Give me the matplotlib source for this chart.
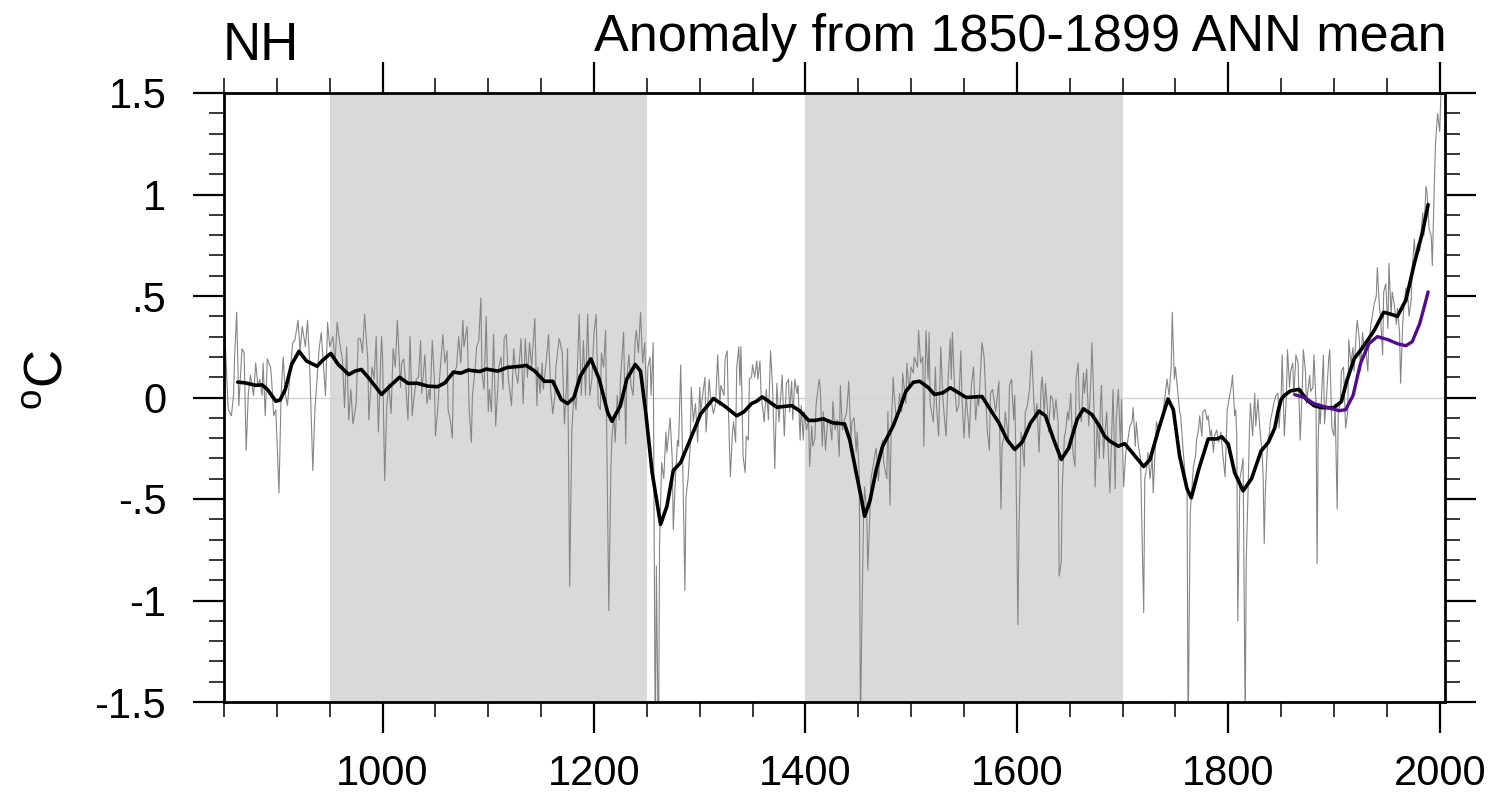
import matplotlib
matplotlib.use('Agg')
import matplotlib.pyplot as plt
from matplotlib.ticker import FixedLocator, MultipleLocator

plt.rcParams['font.family'] = ['Liberation Sans', 'DejaVu Sans']
plt.rcParams['mathtext.fontset'] = 'custom'
plt.rcParams['mathtext.rm'] = 'Liberation Sans'

# ---------------- data (year, anomaly degC) ----------------
title_left = "NH"
title_right = "Anomaly from 1850-1899 ANN mean"
y_label = r"$^{\mathrm{o}}$C"

shade_periods = [(950, 1250), (1400, 1700)]

x_major = [1000, 1200, 1400, 1600, 1800, 2000]
y_major = [-1.5, -1.0, -0.5, 0.0, 0.5, 1.0, 1.5]
y_major_labels = ["-1.5", "-1", "-.5", "0", ".5", "1", "1.5"]

# annual grey series (peaks / troughs)
grey_850_1012 = [(850,0.25),(851,0.29),(854,-0.06),(857,-0.09),(859,0.01),(860,0.20),(862,0.42),(864,-0.04),(867,0.24),(869,0.22),
 (871,-0.26),(873,0.02),(875,0.11),(878,0.01),(880,0.17),(882,0.06),(884,0.09),(886,0.01),(887,0.17),(889,-0.09),
 (891,0.19),(894,0.15),(895,0.09),(897,-0.09),(899,-0.06),(902,-0.47),(904,0.01),(906,0.20),(908,0.02),(910,-0.04),
 (913,0.15),(915,0.27),(917,0.28),(920,0.38),(922,0.23),(924,0.35),(927,0.25),(929,0.38),(931,0.17),(934,-0.36),
 (936,-0.06),(938,0.09),(940,0.24),(942,0.32),(944,0.17),(946,0.01),(948,0.37),(950,0.25),(953,0.30),(955,0.17),
 (957,0.37),(960,0.25),(962,0.19),(964,-0.05),(966,0.25),(968,-0.11),(970,0.04),(972,-0.13),(975,-0.03),(977,0.29),
 (979,0.29),(981,0.22),(983,0.41),(986,0.19),(987,-0.11),(990,0.15),(992,0.09),(994,0.30),(996,-0.17),(999,0.30),
 (1000,0.20),(1002,-0.41),(1004,-0.04),(1006,0.07),(1008,-0.08),(1010,0.24),(1012,0.15)]

grey_1014_1183 = [(1014,0.38),(1017,0.05),(1018,0.17),(1020,0.19),(1022,0.06),(1024,-0.11),(1026,0.30),(1028,-0.09),(1030,0.01),(1032,0.09),
 (1034,0.10),(1036,0.28),(1037,0.02),(1040,0.21),(1042,-0.03),(1044,0.04),(1045,-0.01),(1047,0.28),(1049,0.09),(1050,-0.19),
 (1052,-0.07),(1054,0.10),(1057,0.31),(1059,0.17),(1061,0.23),(1062,-0.06),(1064,-0.11),(1066,-0.20),(1067,0.12),(1070,0.15),
 (1072,0.30),(1074,0.17),(1076,0.38),(1077,0.25),(1080,0.35),(1082,-0.07),(1084,-0.22),(1085,0.01),(1088,0.17),(1089,0.25),
 (1091,0.28),(1093,0.49),(1094,0.12),(1096,0.04),(1098,0.40),(1100,-0.07),(1101,0.04),(1103,-0.07),(1105,0.31),(1107,-0.14),
 (1110,0.15),(1112,0.20),(1114,0.04),(1115,0.29),(1117,0.31),(1119,0.09),(1122,-0.04),(1124,0.24),(1126,0.12),(1128,0.07),
 (1129,0.15),(1131,0.29),(1133,-0.03),(1135,0.29),(1137,0.10),(1139,0.27),(1141,0.15),(1144,0.39),(1146,-0.04),(1147,0.15),
 (1149,0.02),(1151,0.17),(1152,0.04),(1155,0.19),(1157,0.31),(1159,0.04),(1161,-0.08),(1163,0.01),(1164,0.15),(1167,0.29),
 (1168,0.27),(1170,0.22),(1172,-0.13),(1174,0.06),(1175,0.24),(1177,-0.93),(1179,-0.16),(1181,0.01),(1183,-0.06)]

grey_1186_1349 = [(1186,0.41),(1188,0.01),(1190,0.28),(1192,0.01),(1194,0.41),(1196,0.01),(1198,0.09),(1200,0.32),(1202,0.41),(1204,-0.04),
 (1206,-0.06),(1207,0.22),(1209,0.15),(1211,0.33),(1212,-0.16),(1214,-1.05),(1216,-0.34),(1217,-0.19),(1219,-0.09),(1220,-0.22),
 (1222,0.01),(1224,-0.11),(1225,0.09),(1228,0.32),(1230,-0.23),(1231,0.09),(1233,0.21),(1235,0.06),(1237,0.01),(1239,0.29),
 (1240,0.33),(1242,0.22),(1244,0.42),(1246,0.17),(1248,0.27),(1250,-0.06),(1251,0.15),(1253,0.20),(1254,0.01),(1256,0.27),
 (1258,-1.8),(1259,-0.83),(1261,-1.8),(1262,-0.73),(1264,-0.32),(1266,-0.40),(1268,-0.17),(1269,-0.27),(1271,-0.16),(1272,-0.10),
 (1274,-0.30),(1275,-0.65),(1277,-0.40),(1279,-0.21),(1280,-0.24),(1282,0.16),(1284,-0.34),(1286,-0.95),(1287,-0.49),(1289,-0.40),
 (1291,-0.24),(1292,0.05),(1294,-0.12),(1296,-0.03),(1298,-0.22),(1300,0.05),(1301,-0.07),(1303,0.02),(1305,0.10),(1306,-0.17),
 (1309,0.09),(1310,0.01),(1313,-0.08),(1315,-0.03),(1317,0.21),(1319,-0.04),(1320,0.06),(1323,0.01),(1324,0.19),(1326,0.23),
 (1327,-0.04),(1329,-0.39),(1331,-0.17),(1332,-0.12),(1334,-0.22),(1335,0.15),(1337,0.25),(1338,0.06),(1339,0.25),(1341,-0.29),
 (1343,-0.37),(1344,-0.19),(1346,-0.21),(1347,0.09),(1349,0.10)]

grey_1350_1516 = [(1350,0.16),(1352,0.10),(1354,0.18),(1355,0.09),(1357,0.18),(1358,0.02),(1361,-0.12),(1363,0.04),(1365,-0.11),(1367,0.23),
 (1369,0.04),(1371,-0.35),(1373,0.07),(1375,-0.12),(1376,-0.04),(1378,0.11),(1380,-0.19),(1382,0.07),(1384,0.09),(1385,-0.07),
 (1387,0.08),(1388,-0.11),(1390,0.09),(1392,0.02),(1393,0.06),(1395,-0.21),(1396,-0.04),(1398,-0.21),(1399,-0.07),(1401,-0.16),
 (1403,-0.11),(1404,-0.34),(1406,-0.14),(1407,-0.24),(1409,-0.20),(1410,-0.04),(1413,0.09),(1414,0.05),(1416,-0.24),(1417,-0.07),
 (1419,-0.26),(1421,-0.11),(1423,-0.12),(1425,-0.21),(1426,-0.02),(1428,-0.16),(1430,-0.11),(1432,-0.29),(1433,0.06),(1435,-0.16),
 (1437,-0.11),(1439,-0.07),(1441,0.08),(1443,-0.21),(1444,-0.12),(1446,-0.10),(1448,-0.27),(1449,-0.17),(1451,-0.40),(1452,-1.6),
 (1454,-0.93),(1455,-0.57),(1456,-0.44),(1458,-0.57),(1459,-0.85),(1461,-0.57),(1462,-0.40),(1464,-0.34),(1466,-0.27),(1467,-0.25),
 (1469,-0.41),(1471,-0.26),(1473,-0.21),(1474,-0.32),(1477,-0.40),(1478,-0.07),(1480,-0.53),(1481,-0.19),(1483,0.10),(1484,0.01),
 (1486,-0.11),(1488,-0.07),(1489,0.02),(1491,-0.07),(1492,0.12),(1495,-0.03),(1496,0.17),(1498,0.04),(1500,0.15),(1502,0.12),
 (1503,0.20),(1506,0.15),(1507,0.33),(1509,0.17),(1511,0.20),(1512,-0.24),(1514,0.33),(1516,0.09)]

grey_1517_1680 = [(1517,0.32),(1518,-0.03),(1521,-0.12),(1523,0.15),(1524,-0.04),(1526,-0.19),(1528,0.25),(1530,0.00),(1531,-0.07),(1533,-0.19),
 (1535,0.09),(1537,0.29),(1538,0.09),(1539,0.32),(1541,0.06),(1543,-0.07),(1545,-0.04),(1547,0.23),(1548,0.01),(1550,-0.20),
 (1552,0.01),(1554,-0.11),(1555,-0.20),(1557,0.06),(1559,0.15),(1561,-0.11),(1563,0.01),(1564,-0.04),(1567,0.27),(1569,0.20),
 (1571,-0.04),(1572,-0.16),(1574,-0.26),(1575,0.02),(1577,0.04),(1580,-0.07),(1583,0.08),(1585,-0.55),(1586,-0.24),(1588,-0.19),
 (1589,-0.07),(1592,-0.21),(1593,0.06),(1595,0.09),(1597,-0.11),(1598,0.01),(1599,-0.27),(1601,-1.12),(1602,-0.65),(1604,-0.17),
 (1605,-0.21),(1607,-0.34),(1608,-0.07),(1610,-0.04),(1612,0.04),(1614,0.23),(1616,-0.01),(1617,-0.11),(1619,-0.03),(1621,-0.27),
 (1623,0.06),(1624,0.10),(1626,-0.09),(1627,0.07),(1629,-0.06),(1630,-0.17),(1632,0.01),(1634,-0.01),(1635,-0.11),(1637,-0.01),
 (1639,-0.12),(1640,-0.88),(1642,-0.81),(1643,-0.44),(1645,-0.19),(1646,-0.17),(1648,-0.07),(1649,-0.11),(1651,0.02),(1653,-0.27),
 (1655,-0.34),(1656,0.09),(1658,0.17),(1659,-0.04),(1661,-0.12),(1663,0.12),(1664,0.02),(1666,0.14),(1668,-0.14),(1670,0.09),
 (1671,0.27),(1673,-0.06),(1674,-0.44),(1676,-0.12),(1678,-0.30),(1679,-0.04),(1680,0.06)]

grey_1682_1847 = [(1682,-0.30),(1683,-0.19),(1685,-0.07),(1687,-0.34),(1688,-0.47),(1690,-0.12),(1691,0.04),(1693,-0.45),(1694,-0.11),(1696,0.04),
 (1698,-0.24),(1699,-0.01),(1701,-0.44),(1703,-0.27),(1705,-0.21),(1707,-0.14),(1709,-0.12),(1710,-0.05),(1712,-0.24),(1713,-0.12),
 (1715,-0.24),(1717,-0.30),(1718,-0.57),(1720,-1.06),(1721,-0.40),(1723,-0.34),(1724,-0.27),(1726,-0.40),(1728,-0.29),(1729,-0.47),
 (1731,-0.24),(1732,-0.12),(1734,-0.16),(1737,-0.12),(1740,0.00),(1742,0.09),(1744,0.01),(1746,0.15),(1747,0.42),(1749,0.09),
 (1750,0.15),(1752,0.04),(1754,-0.07),(1755,-0.09),(1757,-0.24),(1759,-0.37),(1761,-0.47),(1762,-1.7),(1763,-1.1),(1764,-0.57),
 (1765,-0.49),(1767,-0.34),(1769,-0.29),(1770,-0.21),(1772,-0.15),(1773,-0.09),(1775,-0.19),(1776,-0.07),(1778,-0.06),(1780,-0.11),
 (1781,-0.09),(1783,-0.19),(1784,-0.16),(1786,-0.27),(1787,-0.19),(1789,-0.16),(1791,-0.22),(1793,-0.17),(1795,-0.29),(1797,-0.39),
 (1799,-0.06),(1801,0.00),(1803,0.06),(1804,0.11),(1806,-0.09),(1807,-0.06),(1808,-0.19),(1809,-1.10),(1811,-0.40),(1813,-0.34),
 (1814,-0.30),(1816,-1.6),(1817,-0.80),(1819,-0.40),(1820,-0.16),(1821,-0.03),(1823,-0.19),(1825,0.02),(1826,-0.14),(1828,-0.01),
 (1830,-0.16),(1832,-0.27),(1833,-0.40),(1834,-0.72),(1835,-0.47),(1837,-0.24),(1839,-0.17),(1840,-0.11),(1842,-0.06),(1843,-0.03),
 (1845,0.01),(1847,0.02)]

grey_1848_2004 = [(1848,-0.15),(1850,0.01),(1851,0.21),(1853,-0.19),(1855,0.01),(1856,0.235),(1858,0.05),(1859,0.13),(1861,0.17),(1862,0.01),
 (1864,0.21),(1866,0.17),(1867,-0.03),(1868,-0.21),(1870,0.05),(1871,0.235),(1873,0.13),(1874,-0.03),(1877,0.11),(1878,0.03),
 (1880,0.05),(1881,0.21),(1883,-0.03),(1884,-0.82),(1885,-0.23),(1886,-0.03),(1887,-0.13),(1889,0.09),(1890,0.21),(1891,-0.13),
 (1893,0.01),(1895,0.19),(1896,0.235),(1898,-0.15),(1900,-0.19),(1901,-0.03),(1903,-0.55),(1904,-0.07),(1906,-0.03),(1907,0.13),
 (1909,0.15),(1911,-0.15),(1913,-0.07),(1914,0.285),(1916,0.17),(1918,0.245),(1919,0.13),(1921,0.32),(1922,0.38),(1924,0.285),
 (1925,0.13),(1927,0.32),(1929,0.21),(1930,0.245),(1932,0.13),(1933,0.265),(1935,0.36),(1938,0.46),(1940,0.50),(1941,0.64),
 (1943,0.44),(1944,0.40),(1946,0.21),(1947,0.52),(1949,0.56),(1951,0.34),(1952,0.66),(1954,0.40),(1955,0.52),(1957,0.46),
 (1959,0.36),(1960,0.44),(1962,0.32),(1963,0.07),(1965,0.36),(1966,0.44),(1968,0.54),(1970,0.48),(1971,0.40),(1973,0.48),
 (1974,0.64),(1976,0.78),(1977,0.68),(1979,0.755),(1981,0.72),(1982,0.795),(1984,0.91),(1985,0.795),(1987,1.04),(1988,1.01),
 (1990,0.83),(1992,0.795),(1993,0.65),(1995,1.07),(1996,1.25),(1998,1.40),(2000,1.31),(2001,1.48),(2003,1.52),(2004,1.50)]

# smoothed (black) series
black_smooth = [(863,0.076),(870,0.072),(880,0.06),(886,0.062),(891,0.04),(899,-0.018),(903,-0.013),(908,0.04),(914,0.163),(921,0.228),
 (928,0.18),(938,0.154),(944,0.187),(951,0.217),(958,0.163),(968,0.113),(974,0.13),(980,0.138),(988,0.089),(999,0.015),
 (1007,0.056),(1016,0.10),(1024,0.07),(1033,0.07),(1043,0.056),(1052,0.053),(1059,0.072),(1067,0.125),(1074,0.12),(1081,0.135),
 (1092,0.128),(1098,0.14),(1109,0.13),(1118,0.148),(1131,0.154),(1136,0.158),(1144,0.13),(1153,0.08),(1161,0.08),(1169,-0.01),
 (1175,-0.03),(1181,0.0),(1187,0.105),(1197,0.19),(1205,0.09),(1213,-0.075),(1217,-0.117),(1225,-0.04),(1231,0.09),(1239,0.163),
 (1244,0.13),(1249,-0.075),(1255,-0.37),(1263,-0.625),(1269,-0.535),(1275,-0.36),(1282,-0.32),(1290,-0.22),(1301,-0.08),(1313,-0.005),
 (1323,-0.04),(1335,-0.09),(1342,-0.07),(1349,-0.03),(1354,-0.018),(1359,0.003),(1365,-0.018),(1373,-0.048),(1387,-0.04),(1395,-0.067),
 (1403,-0.113),(1409,-0.113),(1417,-0.105),(1426,-0.125),(1437,-0.13),(1442,-0.21),(1448,-0.37),(1453,-0.50),(1456,-0.585),(1461,-0.51),
 (1467,-0.355),(1473,-0.24),(1483,-0.14),(1489,-0.06),(1495,0.03),(1502,0.075),(1508,0.08),(1516,0.05),(1522,0.015),(1530,0.023),
 (1537,0.048),(1545,0.023),(1552,0.0),(1567,0.005),(1575,-0.06),(1583,-0.125),(1591,-0.21),(1598,-0.256),(1605,-0.22),(1613,-0.125),
 (1621,-0.067),(1627,-0.09),(1635,-0.21),(1642,-0.305),(1649,-0.25),(1657,-0.108),(1663,-0.056),(1671,-0.084),(1678,-0.14),(1683,-0.19),
 (1688,-0.215),(1696,-0.24),(1702,-0.227),(1712,-0.29),(1720,-0.34),(1726,-0.305),(1734,-0.158),(1743,-0.007),(1748,-0.06),(1754,-0.29),
 (1761,-0.45),(1765,-0.494),(1772,-0.355),(1781,-0.204),(1789,-0.204),(1794,-0.194),(1800,-0.23),(1806,-0.37),(1814,-0.46),(1822,-0.40),
 (1831,-0.264),(1838,-0.22),(1844,-0.15),(1847,-0.07),(1850,-0.01),(1853,0.01),(1859,0.033),(1867,0.04),(1874,-0.01),(1881,-0.04),
 (1888,-0.05),(1894,-0.05),(1900,-0.05),(1907,-0.02),(1912,0.08),(1919,0.19),(1929,0.26),(1938,0.33),(1947,0.42),(1954,0.41),
 (1960,0.40),(1968,0.48),(1976,0.66),(1984,0.82),(1989,0.95)]

# smoothed (purple) series
purple_smooth = [(1863,0.014),(1872,0.0),(1881,-0.03),(1894,-0.05),(1905,-0.065),(1911,-0.06),(1918,0.01),(1925,0.167),(1933,0.265),(1941,0.30),
 (1951,0.285),(1960,0.265),(1968,0.255),(1974,0.275),(1981,0.363),(1985,0.44),(1989,0.52)]

grey_series = (grey_850_1012 + grey_1014_1183 + grey_1186_1349 + grey_1350_1516
               + grey_1517_1680 + grey_1682_1847 + grey_1848_2004)

# ---------------- figure ----------------
W, H = 1493, 798
fig = plt.figure(figsize=(W / 100, H / 100), dpi=100)
L, R, T, B = 224, 1445, 93, 702
ax = fig.add_axes([L / W, 1 - B / H, (R - L) / W, (B - T) / H])

for a, b in shade_periods:
    ax.axvspan(a, b, color='#d9d9d9', lw=0, zorder=0)
ax.axhline(0, color='#d2d2d2', lw=1.0, zorder=1)

gy, gv = zip(*grey_series)
ax.plot(gy, gv, color='#858585', lw=0.8, zorder=2)
by, bv = zip(*black_smooth)
ax.plot(by, bv, color='black', lw=2.6, zorder=3, solid_joinstyle='round', solid_capstyle='round')
py, pv = zip(*purple_smooth)
ax.plot(py, pv, color='#520c8e', lw=2.4, zorder=4, solid_joinstyle='round', solid_capstyle='round')

ax.set_xlim(850, 2005)
ax.set_ylim(-1.5, 1.5)

ax.xaxis.set_major_locator(FixedLocator(x_major))
ax.xaxis.set_minor_locator(MultipleLocator(50))
ax.yaxis.set_major_locator(FixedLocator(y_major))
ax.yaxis.set_minor_locator(MultipleLocator(0.1))
ax.set_yticklabels(y_major_labels)
ax.set_xticklabels([str(v) for v in x_major])

ax.tick_params(which='both', direction='out', top=True, right=True, labeltop=False, labelright=False, colors='black')
ax.tick_params(which='major', length=22.5, width=1.6, labelsize=30)
ax.tick_params(axis='y', which='major', pad=19)
ax.tick_params(axis='x', which='major', pad=15)
ax.tick_params(which='minor', length=11, width=1.1)
for s in ax.spines.values():
    s.set_linewidth(2.0)

fig.text(L / W - 0.001, 1 - 60 / H, title_left, fontsize=38, ha='left', va='baseline')
fig.text(1447 / W, 1 - 51 / H, title_right, fontsize=37.5, ha='right', va='baseline')
fig.text(49 / W, 1 - 380 / H, y_label, fontsize=38, rotation=90, ha='center', va='center')

fig.savefig('out.png', dpi=100)
